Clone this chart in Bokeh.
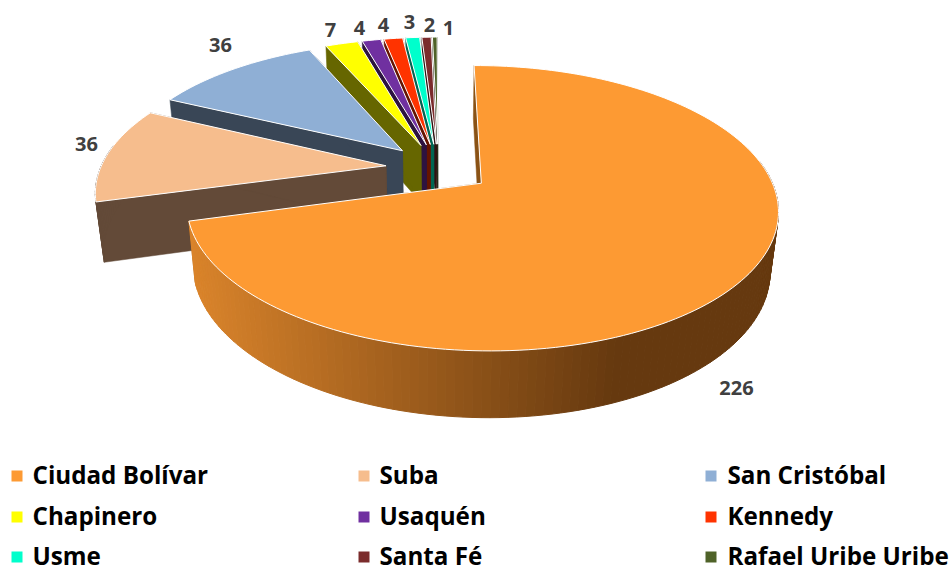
import math
from bokeh.plotting import figure
from bokeh.models import ColumnDataSource
from bokeh.core.properties import value
from bokeh.embed import file_html
from bokeh.resources import INLINE

names = ["Ciudad Bolívar", "Suba", "San Cristóbal", "Chapinero", "Usaquén",
         "Kennedy", "Usme", "Santa Fé", "Rafael Uribe Uribe"]
values = [226, 36, 36, 7, 4, 4, 3, 2, 1]
top_colors = ["#FD9A33", "#F6BD8D", "#8FAFD5", "#FFFF00", "#7030A0",
              "#FF3300", "#00FFCC", "#7B2C2C", "#4F6228"]
wall_colors = ["#8A5215", "#634A38", "#394656", "#666600", "#2D1340",
               "#661400", "#006652", "#311212", "#202710"]
label_x = [736, 86, 220, 330, 359, 383, 409, 429, 448]
label_y = [387, 143, 44, 29, 27, 24, 21, 24, 27]
legend_x = [11, 358, 705]
legend_text_x = [32, 379, 727]
legend_y = [475.5, 516.5, 556.5]

# projection of the exploded 3-D pie on to the pixel plane
CX, CY, A, B, D, P, Q = 438.0, 167.5, 285.5, 133.0, 60.0, 0.172, 0.024
START, EXPLODE = -0.2, 0.185


def project(xx, yy, z):
    w = 1 + P * yy + Q * z
    return CX + A * xx / w, CY + (-B * yy + D * z) / w


def mix(c1, c2, t):
    a = [int(c1[i:i + 2], 16) for i in (1, 3, 5)]
    b = [int(c2[i:i + 2], 16) for i in (1, 3, 5)]
    return "#%02X%02X%02X" % tuple(round(u + (v - u) * t) for u, v in zip(a, b))


total = sum(values)
slices = []
angle = START
for v in values:
    sweep = v / total * 360
    slices.append((angle, angle + sweep))
    angle += sweep

xs, ys, fills, lines, widths = [], [], [], [], []


def add(points, fill, line, width):
    xs.append([q[0] for q in points])
    ys.append([q[1] for q in points])
    fills.append(fill)
    lines.append(line)
    widths.append(width)


for i in reversed(range(len(values))):
    a0, a1 = slices[i]
    mid = math.radians((a0 + a1) / 2)
    ex, ey = EXPLODE * math.sin(mid), EXPLODE * math.cos(mid)
    n = max(3, int((a1 - a0) / 1.5))
    th = [math.radians(a0 + (a1 - a0) * k / n) for k in range(n + 1)]
    rim = [(ex + math.sin(t), ey + math.cos(t)) for t in th]
    wall = wall_colors[i]
    # radial side walls
    add([project(ex, ey, 0), project(*rim[0], 0), project(*rim[0], 1), project(ex, ey, 1)], wall, wall, 0.5)
    add([project(ex, ey, 0), project(*rim[-1], 0), project(*rim[-1], 1), project(ex, ey, 1)], wall, wall, 0.5)
    # outer wall, only where it faces the viewer
    for k in range(n):
        if math.cos((th[k] + th[k + 1]) / 2) < 0.15:
            quad = [project(*rim[k], 0), project(*rim[k + 1], 0), project(*rim[k + 1], 1), project(*rim[k], 1)]
            if i == 0:
                t = min(1, max(0, (quad[0][0] - 190) / 430))
                c = mix("#DA842B", "#66390F", t)
            else:
                c = wall
            add(quad, c, c, 1)
    add([project(ex, ey, 0)] + [project(*q, 0) for q in rim], top_colors[i], "#FFFFFF", 1)

p = figure(width=951, height=568, x_range=(0, 951), y_range=(568, 0),
           output_backend="svg", toolbar_location=None, min_border=0)
p.axis.visible = False
p.grid.visible = False
p.outline_line_color = None

p.patches(xs="xs", ys="ys", fill_color="fc", line_color="lc", line_width="lw",
          source=ColumnDataSource(dict(xs=xs, ys=ys, fc=fills, lc=lines, lw=widths)))

p.text(x=label_x, y=label_y, text=[str(v) for v in values], text_color="#404040",
       text_font=value("Open Sans"), text_font_style="bold", text_font_size="20px",
       text_align="center", text_baseline="middle")

lx = [legend_x[k % 3] for k in range(len(names))]
tx = [legend_text_x[k % 3] for k in range(len(names))]
ly = [legend_y[k // 3] for k in range(len(names))]
p.rect(x=[u + 5.5 for u in lx], y=ly, width=11, height=11, fill_color=top_colors, line_color=None)
p.text(x=tx, y=[u - 1.5 for u in ly], text=names, text_color="#000000",
       text_font=value("Open Sans"), text_font_style="bold", text_font_size="24.2px",
       text_align="left", text_baseline="middle")

open("out.html", "w").write(file_html(p, INLINE))
